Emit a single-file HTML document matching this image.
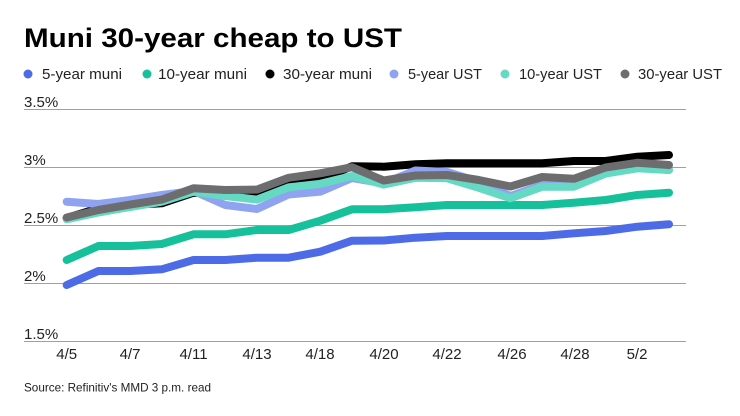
<!DOCTYPE html>
<html><head><meta charset="utf-8"><style>
html,body{margin:0;padding:0;background:#fff;}
svg{display:block;font-family:"Liberation Sans",sans-serif;}
</style></head><body>
<svg width="740" height="416" viewBox="0 0 740 416" xmlns="http://www.w3.org/2000/svg">
<rect width="740" height="416" fill="#fff"/>
<text x="24" y="47" font-size="27" font-weight="bold" fill="#000" textLength="378" lengthAdjust="spacingAndGlyphs">Muni 30-year cheap to UST</text>
<g font-size="15" fill="#222">
<circle cx="28" cy="74" r="4.5" fill="#4D6BE6"/><text x="42" y="79" textLength="80" lengthAdjust="spacingAndGlyphs">5-year muni</text>
<circle cx="147" cy="74" r="4.5" fill="#16C09A"/><text x="158" y="79" textLength="89" lengthAdjust="spacingAndGlyphs">10-year muni</text>
<circle cx="270" cy="74" r="4.5" fill="#000"/><text x="283" y="79" textLength="89" lengthAdjust="spacingAndGlyphs">30-year muni</text>
<circle cx="394" cy="74" r="4.5" fill="#8FA3F0"/><text x="408" y="79" textLength="74" lengthAdjust="spacingAndGlyphs">5-year UST</text>
<circle cx="505" cy="74" r="4.5" fill="#66D9C4"/><text x="519" y="79" textLength="83" lengthAdjust="spacingAndGlyphs">10-year UST</text>
<circle cx="625" cy="74" r="4.5" fill="#6D6D70"/><text x="638" y="79" textLength="84" lengthAdjust="spacingAndGlyphs">30-year UST</text>
</g>
<g stroke="#a0a0a0" stroke-width="1">
<line x1="24" y1="109.5" x2="686" y2="109.5"/>
<line x1="24" y1="167.5" x2="686" y2="167.5"/>
<line x1="24" y1="225.5" x2="686" y2="225.5"/>
<line x1="24" y1="283.5" x2="686" y2="283.5"/>
<line x1="24" y1="341.5" x2="686" y2="341.5"/>
</g>
<g font-size="15" fill="#222">
<text x="24" y="107">3.5%</text>
<text x="24" y="165">3%</text>
<text x="24" y="223">2.5%</text>
<text x="24" y="281">2%</text>
<text x="24" y="339">1.5%</text>
</g>
<g font-size="15" fill="#222" text-anchor="middle">
<text x="66.7" y="359">4/5</text>
<text x="130" y="359">4/7</text>
<text x="193.5" y="359">4/11</text>
<text x="257" y="359">4/13</text>
<text x="320" y="359">4/18</text>
<text x="384" y="359">4/20</text>
<text x="447" y="359">4/22</text>
<text x="512" y="359">4/26</text>
<text x="575" y="359">4/28</text>
<text x="637" y="359">5/2</text>
</g>
<g fill="none" stroke-width="8" stroke-linecap="round" stroke-linejoin="round">
<polyline stroke="#4D6BE6" points="66.7,285 98.4,271 130.1,271 161.8,269.3 193.5,260 225.2,260 256.9,257.7 288.6,257.7 320.3,251.7 352,240.7 383.7,240.5 415.4,237.7 447.1,236 478.8,236 510.5,236 542.2,236 573.9,233.3 605.6,231 637.3,226.7 669,224.3"/>
<polyline stroke="#16C09A" points="66.7,260 98.4,246 130.1,246 161.8,244 193.5,234.3 225.2,234.3 256.9,230 288.6,230 320.3,220.7 352,209.3 383.7,209.3 415.4,207.3 447.1,205 478.8,205 510.5,205 542.2,205 573.9,202.7 605.6,200 637.3,195 669,192.7"/>
<polyline stroke="#000" points="66.7,218 98.4,208.3 130.1,205 161.8,203.3 193.5,192.7 225.2,193.3 256.9,193.3 288.6,184 320.3,179.3 352,166.3 383.7,166.7 415.4,164.3 447.1,163.3 478.8,163.3 510.5,163.3 542.2,163.3 573.9,161 605.6,161 637.3,156.7 669,155"/>
<polyline stroke="#8FA3F0" points="66.7,201.7 98.4,204 130.1,200 161.8,195 193.5,191 225.2,205 256.9,209 288.6,194.5 320.3,191.7 352,178 383.7,183.3 415.4,170.5 447.1,172 478.8,181.7 510.5,196 542.2,185 573.9,186 605.6,173.3 637.3,167.5 669,170"/>
<polyline stroke="#66D9C4" points="66.7,219.3 98.4,212.5 130.1,207 161.8,201.7 193.5,191.7 225.2,196 256.9,199.6 288.6,187.3 320.3,183.8 352,176 383.7,184.6 415.4,177.8 447.1,178.3 478.8,187.8 510.5,198.3 542.2,186.7 573.9,186.7 605.6,173.6 637.3,168.3 669,170"/>
<polyline stroke="#6D6D70" points="66.7,217.5 98.4,210 130.1,204.6 161.8,199.6 193.5,188.3 225.2,190 256.9,189.6 288.6,177.8 320.3,173.3 352,167.2 383.7,180.5 415.4,175.5 447.1,175 478.8,180 510.5,186.5 542.2,177 573.9,178.8 605.6,167.5 637.3,162.8 669,165"/>
</g>
<text x="24" y="391.5" font-size="12" fill="#222" textLength="187" lengthAdjust="spacingAndGlyphs">Source: Refinitiv's MMD 3 p.m. read</text>
</svg>
</body></html>
